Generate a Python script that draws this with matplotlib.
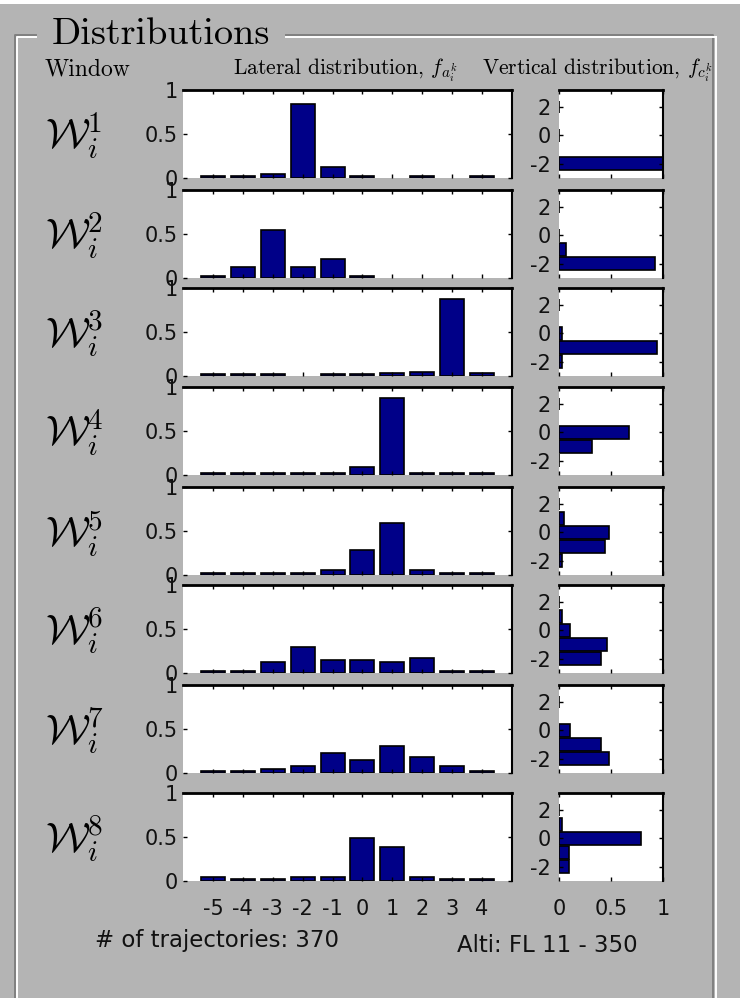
import numpy as np
import matplotlib
matplotlib.use('Agg')
import matplotlib.pyplot as plt
from matplotlib.lines import Line2D
from matplotlib.patches import Rectangle

nan = np.nan

# bins
lateral_bins = [-5, -4, -3, -2, -1, 0, 1, 2, 3, 4]
vertical_bins = [2, 1, 0, -1, -2]

# lateral distribution per window (nan = no bar drawn)
lat_w1 = [0.02, 0.02, 0.05, 0.84, 0.13, 0.02, nan, 0.02, nan, 0.02]
lat_w2 = [0.02, 0.13, 0.55, 0.13, 0.22, 0.02, nan, nan, nan, nan]
lat_w3 = [0.02, 0.02, 0.02, nan, 0.02, 0.02, 0.03, 0.05, 0.88, 0.03]
lat_w4 = [0.02, 0.02, 0.02, 0.02, 0.02, 0.09, 0.88, 0.02, 0.02, 0.02]
lat_w5 = [0.02, 0.02, 0.02, 0.02, 0.06, 0.28, 0.59, 0.06, 0.02, 0.02]
lat_w6 = [0.02, 0.02, 0.12, 0.30, 0.15, 0.15, 0.12, 0.17, 0.02, 0.02]
lat_w7 = [0.02, 0.02, 0.05, 0.08, 0.23, 0.15, 0.31, 0.18, 0.08, 0.02]
lat_w8 = [0.05, 0.02, 0.02, 0.05, 0.05, 0.49, 0.39, 0.05, 0.02, 0.02]

# vertical distribution per window, bins 2, 1, 0, -1, -2
ver_w1 = [0, nan, 0, nan, 1.0]
ver_w2 = [0, nan, 0, 0.07, 0.92]
ver_w3 = [0, nan, 0.03, 0.94, 0.03]
ver_w4 = [0, nan, 0.67, 0.32, 0]
ver_w5 = [0, 0.05, 0.48, 0.44, 0.03]
ver_w6 = [0, 0.03, 0.11, 0.46, 0.40]
ver_w7 = [0, nan, 0.11, 0.40, 0.48]
ver_w8 = [0, 0.03, 0.79, 0.10, 0.10]

lateral = [lat_w1, lat_w2, lat_w3, lat_w4, lat_w5, lat_w6, lat_w7, lat_w8]
vertical = [ver_w1, ver_w2, ver_w3, ver_w4, ver_w5, ver_w6, ver_w7, ver_w8]

n_traj = 370
alti_text = 'Alti: FL 11 - 350'

W, H = 746, 998
GRAY = '#b4b4b4'
NAVY = '#000088'
pix = dict(family='DejaVu Sans', fontsize=15, color='#111111')
plt.rcParams['mathtext.fontset'] = 'cm'

fig = plt.figure(figsize=(W / 100, H / 100), dpi=100, facecolor='white')
fig.add_artist(Rectangle((0, 0), 740 / W, 1 - 4 / H, transform=fig.transFigure,
                         facecolor=GRAY, edgecolor='none', zorder=-10))


def px(x, y):
    return x / W, 1 - y / H


def rect(left, top, w, h):
    return [left / W, 1 - (top + h) / H, w / W, h / H]


def fline(xs, ys, color):
    fx = [x / W for x in xs]
    fy = [1 - y / H for y in ys]
    fig.add_artist(Line2D(fx, fy, color=color, lw=1.4, transform=fig.transFigure))


# etched panel border
fline([15, 15, 36], [998, 34.5, 34.5], '#808080')
fline([17, 17, 36], [998, 36.5, 36.5], 'white')
fline([286, 713, 713], [34.5, 34.5, 998], '#808080')
fline([286, 715.5], [36.5, 36.5], 'white')
fline([716, 716], [36.5, 998], 'white')

fig.text(*px(52, 34), 'Distributions', family='cmr10', fontsize=27.5, va='center', ha='left')
fig.text(*px(45, 69), 'Window', family='cmr10', fontsize=17, va='center', ha='left')
fig.text(*px(345, 70), r'Lateral distribution, $f_{a_i^k}$', family='cmr10',
         fontsize=15.5, va='center', ha='center')
fig.text(*px(712, 70), r'Vertical distribution, $f_{c_i^k}$', family='cmr10',
         fontsize=15.5, va='center', ha='right')

row_tops = [90, 190, 288, 387, 487, 585, 685, 793]
row_h = 88

for i, top in enumerate(row_tops):
    last = i == len(row_tops) - 1

    # lateral
    ax = fig.add_axes(rect(183, top, 329, row_h))
    ax.bar(lateral_bins, lateral[i], width=0.8, color=NAVY, edgecolor='black', linewidth=1.2)
    ax.set_xlim(-6, 5)
    ax.set_ylim(0, 1)
    ax.set_xticks(lateral_bins)
    ax.set_yticks([0, 0.5, 1])
    ax.set_yticklabels(['0', '0.5', '1'], **pix)
    if last:
        ax.set_xticklabels([str(b) for b in lateral_bins], **pix)
    else:
        ax.set_xticklabels([])
    ax.tick_params(direction='in', top=True, right=True, length=3, width=1, pad=13)
    ax.tick_params(axis='y', pad=4)
    for s in ['left', 'bottom']:
        ax.spines[s].set_visible(False)
    ax.spines['top'].set_linewidth(2)
    ax.spines['right'].set_linewidth(1.5)

    # vertical
    av = fig.add_axes(rect(559, top, 104, row_h))
    av.barh(vertical_bins, vertical[i], height=0.9, color=NAVY, edgecolor='black', linewidth=1.2)
    av.set_xlim(0, 1)
    av.set_ylim(-3, 3.2)
    av.set_yticks([-2, 0, 2])
    av.set_yticklabels(['-2', '0', '2'], **pix)
    av.set_xticks([0, 0.5, 1])
    if last:
        av.set_xticklabels(['0', '0.5', '1'], **pix)
    else:
        av.set_xticklabels([])
    av.tick_params(direction='in', top=True, right=True, length=3, width=1, pad=13)
    av.tick_params(axis='y', pad=6)
    for s in ['left', 'bottom']:
        av.spines[s].set_visible(False)
    av.spines['top'].set_linewidth(2)
    av.spines['right'].set_linewidth(1.5)

    # window label
    fig.text(*px(45, top + row_h / 2 + 2), r'$\mathcal{W}_i^{%d}$' % (i + 1),
             fontsize=30, va='center', ha='left')

foot = dict(pix, fontsize=16.5)
fig.text(*px(95, 941), '# of trajectories: %d' % n_traj, va='center', ha='left', **foot)
fig.text(*px(457, 945), alti_text, va='center', ha='left', **foot)

fig.savefig('out.png', dpi=100, facecolor=fig.get_facecolor())
